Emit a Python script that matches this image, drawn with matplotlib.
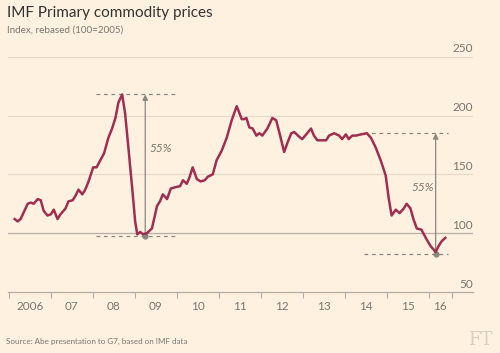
import numpy as np
import matplotlib.pyplot as plt
from matplotlib import rcParams

rcParams['font.family'] = ['Lato', 'DejaVu Sans']

# IMF primary commodity price index
dates = [2006.14, 2006.21, 2006.28, 2006.45, 2006.52, 2006.59, 2006.69, 2006.76, 2006.83, 2006.92,
         2007.00, 2007.07, 2007.16, 2007.23, 2007.35, 2007.42, 2007.52, 2007.59, 2007.66, 2007.75,
         2007.82, 2007.90, 2008.01, 2008.09, 2008.18, 2008.27, 2008.37, 2008.46, 2008.54, 2008.61,
         2008.70, 2008.77, 2008.84, 2008.94, 2009.01, 2009.06, 2009.13, 2009.20, 2009.29, 2009.41,
         2009.53, 2009.60, 2009.67, 2009.77, 2009.86, 2009.96, 2010.08, 2010.15, 2010.24, 2010.31,
         2010.38, 2010.48, 2010.57, 2010.67, 2010.74, 2010.86, 2010.95, 2011.07, 2011.19, 2011.31,
         2011.43, 2011.55, 2011.61, 2011.66, 2011.73, 2011.81, 2011.90, 2011.97, 2012.04, 2012.16,
         2012.28, 2012.37, 2012.45, 2012.56, 2012.64, 2012.73, 2012.80, 2012.92, 2012.99, 2013.11,
         2013.20, 2013.27, 2013.35, 2013.46, 2013.56, 2013.63, 2013.75, 2013.87, 2013.94, 2014.03,
         2014.10, 2014.18, 2014.27, 2014.39, 2014.53, 2014.63, 2014.74, 2014.86, 2014.98, 2015.05,
         2015.12, 2015.22, 2015.31, 2015.41, 2015.48, 2015.57, 2015.64, 2015.72, 2015.83, 2015.95,
         2016.05, 2016.17, 2016.24, 2016.31, 2016.40]
index = [112, 110, 112, 125, 126, 125, 129, 128, 119, 115,
         116, 120, 112, 116, 121, 127, 128, 132, 137, 133,
         137, 144, 156, 156, 162, 168, 181, 189, 198, 211,
         218, 202, 176, 138, 110, 99, 101, 99, 100, 104,
         123, 127, 133, 129, 138, 139, 140, 145, 142, 148,
         156, 146, 144, 145, 148, 150, 162, 170, 181, 196,
         208, 197, 197, 198, 190, 189, 183, 185, 183, 189,
         198, 196, 185, 169, 177, 185, 186, 182, 180, 185,
         189, 183, 179, 179, 179, 183, 185, 183, 180, 184,
         180, 183, 183, 184, 185, 181, 173, 162, 149, 130,
         115, 120, 117, 121, 125, 121, 112, 104, 103, 95,
         89, 84, 89, 93, 96]

year_ticks = [2006, 2007, 2008, 2009, 2010, 2011, 2012, 2013, 2014, 2015, 2016, 2016.55]
year_labels = ['2006', '07', '08', '09', '10', '11', '12', '13', '14', '15', '16']
y_ticks = [50, 100, 150, 200, 250]

# 55% falls: (arrow x, low, high, dashed from, dashed to, label x, label y)
falls = [(2009.25, 98, 218, 2008.08, 2010.02, 2009.63, 172),
         (2016.17, 82, 185, 2014.46, 2016.47, 2015.86, 139)]

bg = '#fff1e0'
claret = '#9e2f50'
grey = '#7a766f'

fig = plt.figure(figsize=(5, 3.53), dpi=100, facecolor=bg)
ax = fig.add_axes([0.016, 0.173, 0.93, 0.666], facecolor=bg)
ax.set_xlim(2005.98, 2017.06)
ax.set_ylim(50, 250)

for v in y_ticks[1:]:
    if v == 100:
        ax.axhline(v, color='#b5aea3', lw=0.9, zorder=1)
    else:
        ax.axhline(v, color='#e6d9c8', lw=0.8, zorder=1)
for v in y_ticks:
    ax.text(1.0, v + 2, str(v), transform=ax.get_yaxis_transform(),
            ha='right', va='bottom', fontsize=8.5, color=grey)

for a_x, lo, hi, d0, d1, lx, ly in falls:
    ax.plot([d0, d1], [hi, hi], color='#8a877f', lw=0.9, ls=(0, (3, 3)), zorder=2)
    ax.plot([d0, d1], [lo, lo], color='#8a877f', lw=0.9, ls=(0, (3, 3)), zorder=2)
    ax.annotate('', xy=(a_x, hi), xytext=(a_x, lo),
                arrowprops=dict(arrowstyle='-|>', color='#8a877f', lw=0.9,
                                mutation_scale=8, shrinkA=0, shrinkB=0), zorder=3)
    ax.plot(a_x, lo, 'o', color='#8a877f', ms=3.5, zorder=4)
    ax.text(lx, ly, '55%', ha='center', va='center', fontsize=8.5,
            color=grey, style='italic')

ax.plot(dates, index, color=claret, lw=1.8, zorder=5, solid_joinstyle='round')

for s in ['top', 'right', 'left']:
    ax.spines[s].set_visible(False)
ax.spines['bottom'].set_color('#b5aea3')
ax.spines['bottom'].set_linewidth(0.9)
ax.set_yticks([])
ax.set_xticks(year_ticks)
ax.set_xticklabels([])
ax.tick_params(axis='x', length=4, color='#b5aea3', width=0.8)
for i, lab in enumerate(year_labels):
    ax.text(year_ticks[i] + 0.5 if i < 10 else 2016.27, 38, lab, ha='center', va='center',
            fontsize=8.5, color=grey, clip_on=False)

fig.text(0.014, 0.962, 'IMF Primary commodity prices', fontsize=11, color='#333333',
         va='center')
fig.text(0.014, 0.915, 'Index, rebased (100=2005)', fontsize=7.1, color=grey, va='center')
fig.text(0.012, 0.034, 'Source: Abe presentation to G7, based on IMF data', fontsize=5.8,
         color=grey, va='center')
fig.text(0.985, 0.036, 'FT', fontsize=13, color='#d9cfc3', ha='right', va='center',
         family='DejaVu Serif')

fig.savefig('out.png', dpi=100, facecolor=bg)
